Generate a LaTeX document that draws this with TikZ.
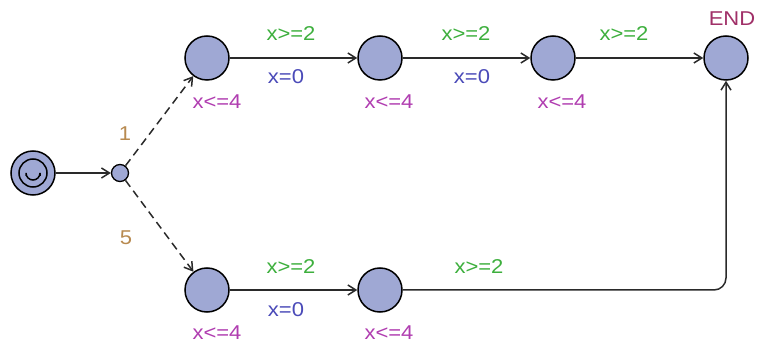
\documentclass[tikz,border=0pt]{standalone}
\usepackage{fontspec}
\setmainfont[FakeStretch=1.1]{Liberation Sans}
\usetikzlibrary{arrows.meta}
\definecolor{locfill}{HTML}{9FA8D4}
\definecolor{guardc}{HTML}{3DAF3D}
\definecolor{assignc}{HTML}{4A4AB8}
\definecolor{invc}{HTML}{B03DB0}
\definecolor{probc}{HTML}{B88A50}
\definecolor{namec}{HTML}{A03068}
\definecolor{edgec}{HTML}{2A2A2A}
\begin{document}
\begin{tikzpicture}[x=1pt,y=-1pt,
  loc/.style={circle,draw=black,line width=1.5pt,fill=locfill,minimum size=44pt,inner sep=0pt},
  branch/.style={circle,draw=black,line width=1.3pt,fill=locfill,minimum size=17pt,inner sep=0pt},
  edge/.style={draw=edgec,line width=1.5pt,-{Straight Barb[length=8pt,width=10pt]}},
  lbl/.style={font=\fontsize{20}{22}\selectfont,inner sep=0pt},
  guard/.style={lbl,text=guardc},
  assign/.style={lbl,text=assignc},
  inv/.style={lbl,text=invc},
  prob/.style={lbl,text=probc},
  lname/.style={lbl,text=namec}]
\useasboundingbox (0,0) rectangle (760,347);
% locations
\node[loc] (init) at (33,173) {};
\draw[black,line width=1.5pt] (init.center) circle (14pt);
\draw[black,line width=1.5pt] ([shift={(-7pt,-3pt)}]init.center) -- ([shift={(-7pt,0pt)}]init.center) arc[start angle=180,end angle=360,radius=7pt] -- ([shift={(7pt,-3pt)}]init.center);
\node[branch] (br) at (120,173) {};
\node[loc] (a1) at (207,58) {};
\node[loc] (a2) at (380,58) {};
\node[loc] (a3) at (553,58) {};
\node[loc] (end) at (726,58) {};
\node[loc] (b1) at (207,290) {};
\node[loc] (b2) at (380,290) {};
\coordinate (corner) at (726,290);
% edges
\draw[edge] (init) -- (br);
\draw[edge,dash pattern=on 8pt off 5pt] (br) -- (a1);
\draw[edge,dash pattern=on 8pt off 5pt] (br) -- (b1);
\draw[edge] (a1) -- (a2);
\draw[edge] (a2) -- (a3);
\draw[edge] (a3) -- (end);
\draw[edge] (b1) -- (b2);
\draw[edge,rounded corners=12pt] (b2) -- (corner) -- (end);
% labels
\node[lname] at (732,19) {END};
\node[prob] at (125,134) {1};
\node[prob] at (126,238) {5};
\node[guard] at (291,34) {x>=2};
\node[guard] at (466,34) {x>=2};
\node[guard] at (624,34) {x>=2};
\node[assign] at (286,77) {x=0};
\node[assign] at (472,77) {x=0};
\node[inv] at (217,102) {x<=4};
\node[inv] at (389,102) {x<=4};
\node[inv] at (562,102) {x<=4};
\node[guard] at (291,267) {x>=2};
\node[guard] at (479,267) {x>=2};
\node[assign] at (286,310) {x=0};
\node[inv] at (217,333) {x<=4};
\node[inv] at (389,333) {x<=4};
\end{tikzpicture}
\end{document}
